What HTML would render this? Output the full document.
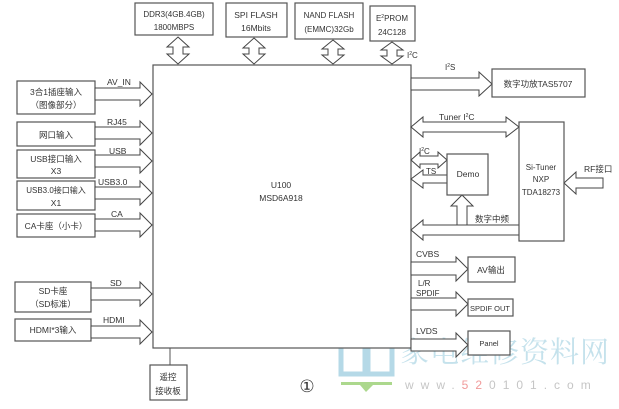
<!DOCTYPE html>
<html><head><meta charset="utf-8"><style>
html,body{margin:0;padding:0;background:#fff;}
svg{display:block;}
text{font-family:"Liberation Sans","Noto Sans CJK SC",sans-serif;font-size:8.5px;fill:#333;}
.b{fill:#fff;stroke:#555;stroke-width:1.2;}
.a{fill:#fff;stroke:#444;stroke-width:1;}
</style></head><body>
<svg width="619" height="409" viewBox="0 0 619 409" xmlns="http://www.w3.org/2000/svg">
<rect width="619" height="409" fill="#fff"/>
<!-- watermark -->
<g opacity="0.85">
<rect x="341" y="334" width="24" height="40" fill="none" stroke="#a9d3e3" stroke-width="5"/>
<rect x="368" y="334" width="24" height="40" fill="none" stroke="#a9d3e3" stroke-width="5"/>
<rect x="341" y="382" width="51" height="3" fill="#9ed27a"/>
<polygon points="360,385 373,385 366,392" fill="#9ed27a"/>
<text x="400" y="362" style="font-size:29px;fill:#bcdde9;font-family:'Noto Serif CJK SC',serif;letter-spacing:1px">家电维修资料网</text>
<text x="405" y="389" style="font-size:12px;fill:#bbb;letter-spacing:7px">www.<tspan style="fill:#e88">52</tspan>0101.com</text>
</g>
<!-- main box -->
<rect class="b" x="153" y="65" width="258" height="283"/>
<text x="281" y="188" text-anchor="middle">U100</text>
<text x="281" y="201" text-anchor="middle">MSD6A918</text>
<!-- top boxes -->
<rect class="b" x="135" y="3" width="78" height="32"/>
<text x="174" y="17" text-anchor="middle" style="font-size:8px">DDR3(4GB.4GB)</text>
<text x="174" y="30" text-anchor="middle" style="font-size:8px">1800MBPS</text>
<rect class="b" x="226" y="3" width="61" height="34"/>
<text x="256" y="18" text-anchor="middle">SPI FLASH</text>
<text x="256" y="31" text-anchor="middle">16Mbits</text>
<rect class="b" x="295" y="3" width="68" height="36"/>
<text x="329" y="18" text-anchor="middle" style="font-size:8px">NAND FLASH</text>
<text x="329" y="32" text-anchor="middle" style="font-size:8px">(EMMC)32Gb</text>
<rect class="b" x="370" y="6" width="45" height="35"/>
<text x="392" y="21" text-anchor="middle" style="font-size:8px">E<tspan dy="-3" style="font-size:5px">2</tspan><tspan dy="3">PROM</tspan></text>
<text x="392" y="35" text-anchor="middle" style="font-size:8px">24C128</text>
<text x="407" y="58" style="font-size:8px">I<tspan dy="-3" style="font-size:5px">2</tspan><tspan dy="3">C</tspan></text>
<!-- vertical double arrows -->
<g class="a">
<polygon points="178,37 189,47 183,47 183,54 189,54 178,64 167,54 173,54 173,47 167,47"/>
<polygon points="254,38 265,48 259,48 259,54 265,54 254,64 243,54 249,54 249,48 243,48"/>
<polygon points="333,40 344,49 338,49 338,55 344,55 333,64 322,55 328,55 328,49 322,49"/>
<polygon points="392,42 403,50 397,50 397,56 403,56 392,64 381,56 387,56 387,50 381,50"/>
</g>
<!-- left boxes -->
<rect class="b" x="17" y="81" width="78" height="33"/>
<text x="56" y="95" text-anchor="middle">3合1插座输入</text>
<text x="56" y="108" text-anchor="middle">（图像部分）</text>
<rect class="b" x="17" y="122" width="78" height="24"/>
<text x="56" y="138" text-anchor="middle">网口输入</text>
<rect class="b" x="17" y="150" width="78" height="28"/>
<text x="56" y="162" text-anchor="middle">USB接口输入</text>
<text x="56" y="174" text-anchor="middle">X3</text>
<rect class="b" x="17" y="181" width="78" height="29"/>
<text x="56" y="193" text-anchor="middle" style="font-size:8px">USB3.0接口输入</text>
<text x="56" y="206" text-anchor="middle">X1</text>
<rect class="b" x="17" y="214" width="78" height="23"/>
<text x="56" y="229" text-anchor="middle">CA卡座（小卡）</text>
<rect class="b" x="15" y="282" width="76" height="30"/>
<text x="53" y="294" text-anchor="middle">SD卡座</text>
<text x="53" y="307" text-anchor="middle">（SD标准）</text>
<rect class="b" x="15" y="319" width="76" height="22"/>
<text x="53" y="333" text-anchor="middle">HDMI*3输入</text>
<!-- left arrows -->
<g class="a">
<polygon points="95,88 140,88 140,82 152,94 140,106 140,100 95,100"/>
<polygon points="95,127 140,127 140,121 152,133 140,145 140,139 95,139"/>
<polygon points="95,155 140,155 140,149 152,161 140,173 140,167 95,167"/>
<polygon points="95,187 140,187 140,181 152,193 140,205 140,199 95,199"/>
<polygon points="95,219 140,219 140,213 152,225 140,237 140,231 95,231"/>
<polygon points="91,288 140,288 140,282 152,294 140,306 140,300 91,300"/>
<polygon points="91,326 140,326 140,320 152,332 140,344 140,338 91,338"/>
</g>
<text x="107" y="85">AV_IN</text>
<text x="107" y="125">RJ45</text>
<text x="109" y="154">USB</text>
<text x="98" y="185">USB3.0</text>
<text x="111" y="217">CA</text>
<text x="110" y="286">SD</text>
<text x="103" y="323">HDMI</text>
<!-- remote -->
<line x1="170" y1="348" x2="170" y2="365" stroke="#555"/>
<rect class="b" x="150" y="365" width="37" height="35"/>
<text x="168" y="380" text-anchor="middle">遥控</text>
<text x="168" y="394" text-anchor="middle">接收板</text>
<text x="307" y="392" text-anchor="middle" style="font-size:17px;font-family:'Liberation Serif',serif">①</text>
<!-- right side -->
<g class="a">
<polygon points="411,78 479,78 479,72 492,84 479,96 479,90 411,90"/>
<polygon points="411,127 423,117 423,122 506,122 506,117 519,127 506,137 506,132 423,132 423,137"/>
<polygon points="411,160 420,152 420,156 438,156 438,152 447,160 438,168 438,164 420,164 420,168"/>
<polygon points="447,175 423,175 423,170 411,179 423,188 423,183 447,183"/>
<polygon points="519,225 423,225 423,220 411,230 423,240 423,235 519,235"/>
<polygon points="457,225 457,206 451,206 462,195 473,206 467,206 467,225"/>
<polygon points="603,178 576,178 576,172 564,183 576,194 576,188 603,188"/>
<polygon points="411,262 456,262 456,257 468,269 456,281 456,275 411,275"/>
<polygon points="411,298 456,298 456,292 468,304 456,316 456,310 411,310"/>
<polygon points="411,339 456,339 456,333 468,345 456,357 456,351 411,351"/>
</g>
<text x="445" y="70" style="font-size:8px">I<tspan dy="-3" style="font-size:5px">2</tspan><tspan dy="3">S</tspan></text>
<rect class="b" x="492" y="69" width="93" height="28"/>
<text x="538" y="87" text-anchor="middle">数字功放TAS5707</text>
<text x="439" y="120">Tuner  I<tspan dy="-3" style="font-size:5px">2</tspan><tspan dy="3">C</tspan></text>
<rect class="b" x="519" y="122" width="45" height="119"/>
<text x="541" y="170" text-anchor="middle" style="font-size:8px">Si-Tuner</text>
<text x="541" y="182" text-anchor="middle" style="font-size:8px">NXP</text>
<text x="541" y="195" text-anchor="middle" style="font-size:8px">TDA18273</text>
<text x="584" y="172">RF接口</text>
<rect class="b" x="447" y="154" width="41" height="41"/>
<text x="468" y="177" text-anchor="middle">Demo</text>
<text x="419" y="154" style="font-size:8px">I<tspan dy="-3" style="font-size:5px">2</tspan><tspan dy="3">C</tspan></text>
<text x="426" y="174" style="font-size:8px">TS</text>
<text x="475" y="222">数字中频</text>
<text x="416" y="257">CVBS</text>
<text x="418" y="286" style="font-size:8px">L/R</text>
<text x="416" y="296" style="font-size:8px">SPDIF</text>
<text x="416" y="334">LVDS</text>
<rect class="b" x="468" y="257" width="47" height="25"/>
<text x="491" y="273" text-anchor="middle">AV输出</text>
<rect class="b" x="468" y="299" width="45" height="17"/>
<text x="490" y="311" text-anchor="middle" style="font-size:7.5px">SPDIF OUT</text>
<rect class="b" x="468" y="331" width="42" height="24"/>
<text x="489" y="346" text-anchor="middle" style="font-size:7.5px">Panel</text>
</svg>
</body></html>
